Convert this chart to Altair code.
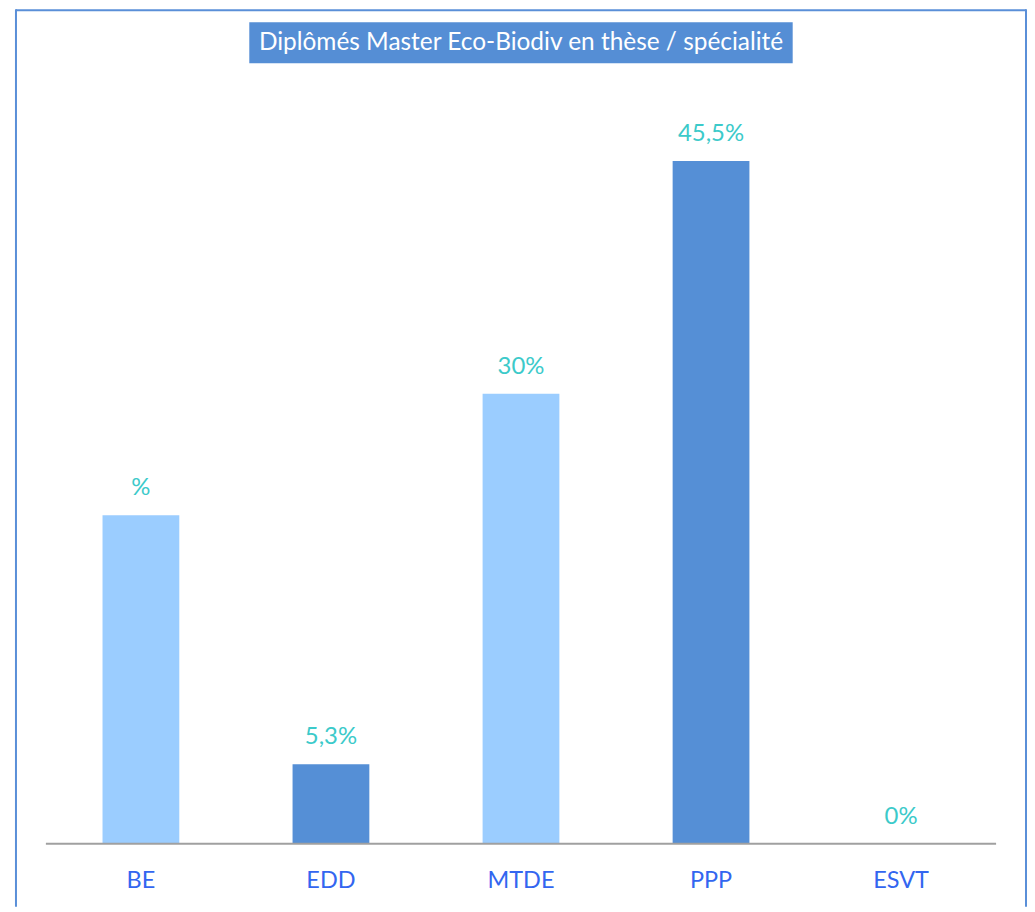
import altair as alt
import pandas as pd

categories = ["BE", "EDD", "MTDE", "PPP", "ESVT"]
values = [21.9, 5.3, 30.0, 45.5, 0.0]
value_labels = ["%", "5,3%", "30%", "45,5%", "0%"]
shade = ["clair", "foncé", "clair", "foncé", "clair"]
title_text = "Diplômés Master Eco-Biodiv en thèse / spécialité"

df = pd.DataFrame({"cat": categories, "val": values, "lab": value_labels, "shade": shade})

FONT = "Lato"
BORDER = "#5A8FD8"

xs = alt.X("cat:N", sort=categories, axis=None,
           scale=alt.Scale(range=[38, 991], paddingInner=0.596, paddingOuter=0.298))
ys = alt.Y("val:Q", axis=None, scale=alt.Scale(domain=[0, 50], range=[837, 84.5]))

base = alt.Chart(df)

bars = base.mark_bar().encode(
    x=xs, y=ys,
    color=alt.Color("shade:N", legend=None,
                    scale=alt.Scale(domain=["clair", "foncé"], range=["#9BCDFF", "#558FD6"])),
)

vlabels = base.mark_text(font=FONT, fontSize=24, color="#3CCACA", baseline="middle", dy=-27).encode(
    x=xs, y=ys, text="lab:N"
)

catlabels = base.mark_text(font=FONT, fontSize=23.5, color="#3366F0", baseline="middle").encode(
    x=xs, y=alt.value(874), text="cat:N"
)

one = alt.Data(values=[{"t": title_text}])

baseline = alt.Chart(one).mark_rule(color="#A0A0A0", strokeWidth=2).encode(
    x=alt.value(38), x2=alt.value(991), y=alt.value(837)
)

title_box = alt.Chart(one).mark_rect(color="#558ED5").encode(
    x=alt.value(242), x2=alt.value(787), y=alt.value(13), y2=alt.value(54)
)
title = alt.Chart(one).mark_text(font=FONT, fontSize=24.5, color="white", baseline="middle").encode(
    x=alt.value(514.5), y=alt.value(34), text="t:N"
)

left_b = alt.Chart(one).mark_rule(color=BORDER, strokeWidth=2).encode(
    x=alt.value(8), y=alt.value(0), y2=alt.value(900)
)
right_b = alt.Chart(one).mark_rule(color=BORDER, strokeWidth=2).encode(
    x=alt.value(1021), y=alt.value(0), y2=alt.value(900)
)
top_b = alt.Chart(one).mark_rule(color=BORDER, strokeWidth=2).encode(
    x=alt.value(8), x2=alt.value(1021), y=alt.value(1)
)

chart = alt.layer(
    title_box, title, bars, vlabels, baseline, catlabels, left_b, right_b, top_b
).resolve_scale(x="shared", y="shared").properties(
    width=1022, height=900,
    autosize=alt.AutoSizeParams(type="none"),
    padding={"left": 0, "top": 0, "right": 0, "bottom": 0},
).configure_view(stroke=None)

chart.save("out.html", embed_options={"renderer": "svg", "actions": False})
